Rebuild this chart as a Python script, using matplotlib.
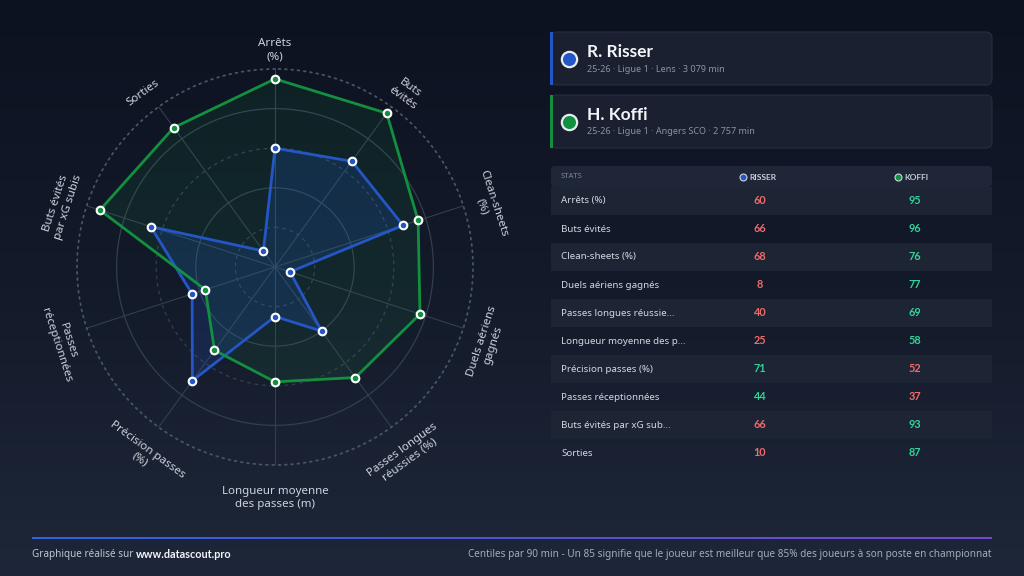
import numpy as np
import matplotlib
matplotlib.use("Agg")
import matplotlib.pyplot as plt
import matplotlib.transforms as mtransforms
from matplotlib.patches import FancyBboxPatch, Rectangle
from matplotlib.colors import LinearSegmentedColormap

plt.rcParams['font.family'] = ['Noto Sans', 'DejaVu Sans']
BOLD = ['Lato', 'DejaVu Sans']

# data
stats = ["Arrêts (%)", "Buts évités", "Clean-sheets (%)", "Duels aériens gagnés",
         "Passes longues réussies (%)", "Longueur moyenne des passes (m)",
         "Précision passes (%)", "Passes réceptionnées", "Buts évités par xG subis",
         "Sorties"]
radar_labels = ["Arrêts\n(%)", "Buts\névités", "Clean-sheets\n(%)", "Duels aériens\ngagnés",
                "Passes longues\nréussies (%)", "Longueur moyenne\ndes passes (m)",
                "Précision passes\n(%)", "Passes\nréceptionnées", "Buts évités\npar xG subis",
                "Sorties"]
risser = [60, 66, 68, 8, 40, 25, 71, 44, 66, 10]
koffi = [95, 96, 76, 77, 69, 58, 52, 37, 93, 87]

players = ["R. Risser", "H. Koffi"]
subtitles = ["25-26 · Ligue 1 · Lens · 3 079 min", "25-26 · Ligue 1 · Angers SCO · 2 757 min"]
short_names = ["RISSER", "KOFFI"]

BLUE = "#2457c5"
GREEN = "#13903f"
UP = "#34d399"
DOWN = "#f06b6b"
TXT = "#d3d8e0"
SUB = "#8a93a3"

fig = plt.figure(figsize=(10.24, 5.76), dpi=100)

# overlay in pixel coordinates
ov = fig.add_axes([0, 0, 1, 1])
ov.axis("off")
grad = np.linspace(0, 1, 256).reshape(-1, 1)
bg_cmap = LinearSegmentedColormap.from_list("bg", ["#0d1220", "#131a2a", "#1e2739"])
ov.imshow(grad, cmap=bg_cmap, extent=(0, 1024, 576, 0), aspect="auto", zorder=0)

# footer gradient line
line_cmap = LinearSegmentedColormap.from_list("ln", ["#2f63e0", "#4f52d8", "#7a45d6"])
ov.imshow(np.linspace(0, 1, 256).reshape(1, -1), cmap=line_cmap,
          extent=(32, 992, 539.3, 537.3), aspect="auto", zorder=1)
ov.set_xlim(0, 1024)
ov.set_ylim(576, 0)

# player cards
for k, (name, sub, col) in enumerate(zip(players, subtitles, [BLUE, GREEN])):
    y0 = 32 + 63 * k
    ov.add_patch(FancyBboxPatch((551, y0), 441, 53, boxstyle="round,pad=0,rounding_size=6",
                                facecolor="#1a2030", edgecolor="#262e3e", lw=0.8, zorder=2))
    ov.add_patch(Rectangle((549.5, y0), 3, 53, facecolor=col, edgecolor="none", zorder=3))
    ov.plot(569, y0 + 27, marker="o", ms=11, mfc=col, mec="#e8ecf2", mew=1.6, zorder=4)
    ov.text(587, y0 + 20, name, fontsize=12.5, fontweight="bold", family=BOLD,
            color="#f3f5f8", va="center", ha="left", zorder=4)
    ov.text(587, y0 + 37, sub, fontsize=6.5, color=SUB, va="center", ha="left", zorder=4)

# table
ov.add_patch(FancyBboxPatch((551, 166), 441, 21, boxstyle="round,pad=0,rounding_size=4",
                            facecolor="#1e2637", edgecolor="none", zorder=2))
ov.text(561, 177, "STATS", fontsize=5.5, color="#7d8696", va="center", ha="left", zorder=4)
col_x = [760, 915]
for cx, nm, col in zip(col_x, short_names, [BLUE, GREEN]):
    ov.plot(cx - 17, 177, marker="o", ms=5, mfc=col, mec="#cfd5de", mew=0.8, zorder=4)
    ov.text(cx - 11, 177, nm, fontsize=6, fontweight="bold", family=BOLD, color="#c8ced8",
            va="center", ha="left", zorder=4)

row_h = 28
for i, s in enumerate(stats):
    y0 = 187 + row_h * i
    if i % 2 == 0:
        ov.add_patch(Rectangle((551, y0), 441, row_h, facecolor="#1d2535",
                               edgecolor="none", zorder=2))
    lab = s if len(s) <= 22 else s[:22] + "..."
    ov.text(561, y0 + row_h / 2, lab, fontsize=7, color=TXT, va="center", ha="left", zorder=4)
    a, b = risser[i], koffi[i]
    ov.text(col_x[0], y0 + row_h / 2, str(a), fontsize=7.8, fontweight="bold", family=BOLD,
            color=UP if a > b else DOWN, va="center", ha="center", zorder=4)
    ov.text(col_x[1], y0 + row_h / 2, str(b), fontsize=7.8, fontweight="bold", family=BOLD,
            color=UP if b > a else DOWN, va="center", ha="center", zorder=4)

# footer
t1 = ov.text(32, 555, "Graphique réalisé sur ", fontsize=7.2, color="#c0c6d0",
             va="center", ha="left", zorder=4)
ov.annotate("www.datascout.pro", xy=(1, 0.5), xycoords=t1, fontsize=7.8,
            fontweight="bold", family=BOLD, color="#f3f5f8", va="center", ha="left", zorder=4)
ov.text(992, 555, "Centiles par 90 min - Un 85 signifie que le joueur est meilleur que 85% "
        "des joueurs à son poste en championnat", fontsize=7.2, color="#a4acb8",
        va="center", ha="right", zorder=4)

# radar
cx, cy, R = 275, 267, 198
ax = fig.add_axes([(cx - R) / 1024, (576 - cy - R) / 576, 2 * R / 1024, 2 * R / 576],
                  projection="polar")
ax.set_facecolor("none")
ax.set_theta_zero_location("N")
ax.set_theta_direction(-1)
n = len(stats)
ang = np.arange(n) * 2 * np.pi / n
ax.set_ylim(0, 100)
ax.set_yticks([20, 40, 60, 80])
ax.set_yticklabels([])
ax.set_xticks(ang)
ax.set_xticklabels([])
ax.tick_params(length=0)
for j, gl in enumerate(ax.yaxis.get_gridlines()):
    gl.set_color("#343e4e")
    gl.set_linewidth(0.9)
    gl.set_linestyle((0, (3, 3)) if j % 2 == 0 else "-")
for gl in ax.xaxis.get_gridlines():
    gl.set_color("#343e4e")
    gl.set_linewidth(0.8)
    gl.set_linestyle("-")
ax.spines["polar"].set_color("#4a5465")
ax.spines["polar"].set_linestyle((0, (1, 2.5)))
ax.spines["polar"].set_linewidth(1.3)
ax.spines["polar"].set_capstyle("round")

ang_c = np.append(ang, ang[0])
for vals, col, fc, fa in [(koffi, GREEN, "#16a34a", 0.10), (risser, BLUE, "#2563eb", 0.16)]:
    v = np.append(vals, vals[0])
    ax.fill(ang_c, v, color=fc, alpha=fa, zorder=2, lw=0)
for vals, col in [(risser, BLUE), (koffi, GREEN)]:
    v = np.append(vals, vals[0])
    ax.plot(ang_c, v, color=col, lw=2, zorder=3)
    ax.plot(ang, vals, "o", ms=5.5, mfc=col, mec="white", mew=1.5, zorder=4, ls="none")

shift = mtransforms.ScaledTranslation(0, -7 / 100, fig.dpi_scale_trans)
for a, lab in zip(ang, radar_labels):
    deg = np.degrees(a)
    rot = -deg
    while rot <= -90:
        rot += 180
    while rot > 90:
        rot -= 180
    ax.text(a, 113, lab, rotation=rot, rotation_mode="anchor", ha="center", va="center",
            fontsize=8.3, color="#cdd3dc", linespacing=1.2,
            transform=ax.transData + shift)

fig.savefig("out.png", dpi=100, facecolor=fig.get_facecolor())
